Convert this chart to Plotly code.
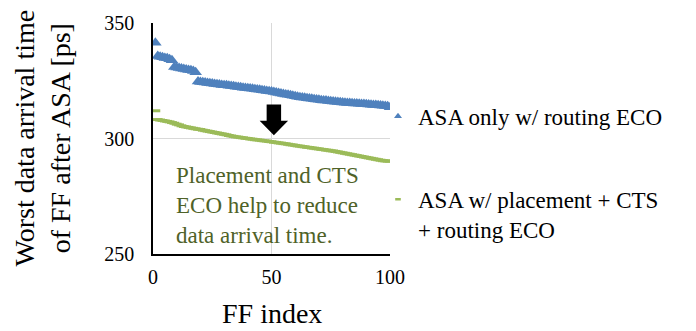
import plotly.graph_objects as go

# FF index (1..100)
ff_index = list(range(1, 101))

# Worst data arrival time [ps], ASA with routing ECO only
asa_routing_only = [
    341.4, 335.7, 335.4, 335.2, 334.9, 334.7, 334.3, 333.9, 330.9, 330.7,
    330.5, 330.3, 330.1, 329.9, 329.7, 329.5, 329.2, 328.7, 324.7, 324.5,
    324.3, 324.2, 324.0, 323.9, 323.8, 323.6, 323.5, 323.4, 323.2, 323.1,
    323.0, 322.8, 322.7, 322.6, 322.4, 322.3, 322.2, 322.0, 321.9, 321.8,
    321.6, 321.5, 321.3, 321.2, 321.1, 320.9, 320.8, 320.6, 320.5, 320.3,
    320.1, 319.9, 319.7, 319.5, 319.3, 319.1, 318.9, 318.7, 318.5, 318.3,
    318.1, 317.9, 317.7, 317.6, 317.4, 317.3, 317.2, 317.0, 316.9, 316.8,
    316.6, 316.5, 316.4, 316.2, 316.1, 316.0, 315.9, 315.8, 315.7, 315.6,
    315.5, 315.4, 315.4, 315.3, 315.2, 315.1, 315.0, 314.9, 314.9, 314.8,
    314.7, 314.6, 314.5, 314.5, 314.4, 314.3, 314.2, 314.1, 314.0, 313.5,
]

# Worst data arrival time [ps], ASA with placement + CTS + routing ECO
asa_full_eco = [
    312.0, 308.2, 308.0, 307.8, 307.6, 307.4, 307.2, 306.9, 306.6, 306.2,
    305.9, 305.5, 305.2, 305.0, 304.8, 304.6, 304.4, 304.2, 304.0, 303.9,
    303.6, 303.4, 303.2, 303.0, 302.8, 302.6, 302.4, 302.2, 302.0, 301.8,
    301.6, 301.3, 301.1, 300.9, 300.7, 300.6, 300.4, 300.3, 300.1, 300.0,
    299.8, 299.7, 299.5, 299.4, 299.3, 299.1, 299.0, 298.9, 298.7, 298.6,
    298.4, 298.3, 298.1, 298.0, 297.8, 297.7, 297.5, 297.3, 297.2, 297.0,
    296.8, 296.7, 296.5, 296.4, 296.2, 296.1, 295.9, 295.8, 295.6, 295.5,
    295.3, 295.2, 295.0, 294.9, 294.7, 294.6, 294.4, 294.2, 294.0, 293.8,
    293.6, 293.4, 293.2, 293.0, 292.8, 292.6, 292.4, 292.2, 292.0, 291.8,
    291.6, 291.4, 291.2, 291.0, 290.8, 290.6, 290.4, 290.3, 290.2, 290.2,
]

series_names = ["ASA only w/ routing ECO", "ASA w/ placement + CTS<br>+ routing ECO"]
x_ticks = [0, 50, 100]
y_ticks = [250, 300, 350]

SERIF = "Liberation Serif, Times New Roman, serif"
BLUE = "#4F81BD"
GREEN = "#9BBB59"
GRID = "#D9D9D9"

fig = go.Figure()

# Data traces (legend entries are drawn by the smaller-symbol traces below)
fig.add_trace(go.Scatter(
    x=ff_index, y=asa_routing_only, mode="markers", name=series_names[0],
    marker=dict(symbol="triangle-up", size=11, color=BLUE, line=dict(width=0)),
    showlegend=False,
))
fig.add_trace(go.Scatter(
    x=ff_index, y=asa_full_eco, mode="markers", name=series_names[1],
    marker=dict(symbol="line-ew", size=7, color=GREEN,
                line=dict(width=3, color=GREEN)),
    showlegend=False,
))

# Legend entries with compact symbols
fig.add_trace(go.Scatter(
    x=[None], y=[None], mode="markers", name=series_names[0],
    marker=dict(symbol="triangle-up", size=7, color=BLUE, line=dict(width=0)),
    legendgroup="a",
))
fig.add_trace(go.Scatter(
    x=[None], y=[None], mode="markers", name=series_names[1],
    marker=dict(symbol="line-ew", size=4, color=GREEN,
                line=dict(width=2.5, color=GREEN)),
    legendgroup="b",
))

# Downward arrow pointing from the upper curve toward the lower one
ax_c, ax_shaft, ax_head = 51.0, 3.05, 6.0
ay_top, ay_base, ay_tip = 314.7, 307.7, 301.4
arrow_path = (
    f"M {ax_c - ax_shaft},{ay_top} L {ax_c + ax_shaft},{ay_top} "
    f"L {ax_c + ax_shaft},{ay_base} L {ax_c + ax_head},{ay_base} "
    f"L {ax_c},{ay_tip} L {ax_c - ax_head},{ay_base} "
    f"L {ax_c - ax_shaft},{ay_base} Z"
)
fig.add_shape(type="path", path=arrow_path, xref="x", yref="y",
              fillcolor="black", line=dict(width=0), layer="above")

fig.add_annotation(
    text="Placement and CTS<br>ECO help to reduce<br>data arrival time.",
    xref="paper", yref="paper", x=(174 - 153) / 237, y=(254 - 158) / 238,
    xanchor="left", yanchor="top", align="left", showarrow=False,
    font=dict(family=SERIF, size=23, color="#4F6228"),
)

# Axis titles
fig.add_annotation(
    text="Worst data arrival time<br>of FF after ASA [ps]",
    xref="paper", yref="paper", x=(42 - 153) / 237, y=0.5,
    xanchor="center", yanchor="middle", textangle=-90, showarrow=False,
    font=dict(family=SERIF, size=28, color="black"),
)
fig.add_annotation(
    text="FF index",
    xref="paper", yref="paper", x=0.5, y=-(315 - 254) / 238,
    xanchor="center", yanchor="middle", showarrow=False,
    font=dict(family=SERIF, size=28, color="black"),
)

fig.update_layout(
    width=696, height=331,
    margin=dict(l=153, r=306, t=16, b=77, pad=0),
    paper_bgcolor="white", plot_bgcolor="white",
    font=dict(family=SERIF, size=20, color="black"),
    showlegend=True,
    legend=dict(
        x=(378 - 153) / 237, y=(254 - 90) / 238, xanchor="left", yanchor="top",
        font=dict(family=SERIF, size=23, color="black"),
        bgcolor="rgba(0,0,0,0)", traceorder="grouped", tracegroupgap=50,
        valign="top", itemwidth=30,
    ),
    xaxis=dict(
        range=[0, 100], tickvals=x_ticks, ticktext=[str(v) for v in x_ticks],
        showgrid=True, gridcolor=GRID, gridwidth=1,
        showline=True, linecolor="black", linewidth=1.5,
        zeroline=False, ticks="", ticklabelstandoff=4,
        tickfont=dict(family=SERIF, size=20),
    ),
    yaxis=dict(
        range=[250, 350], tickvals=y_ticks, ticktext=[str(v) for v in y_ticks],
        showgrid=True, gridcolor=GRID, gridwidth=1,
        showline=True, linecolor="black", linewidth=1.5,
        zeroline=False, ticks="", ticklabelstandoff=13,
        tickfont=dict(family=SERIF, size=20),
    ),
)

fig.write_html("out.html")
